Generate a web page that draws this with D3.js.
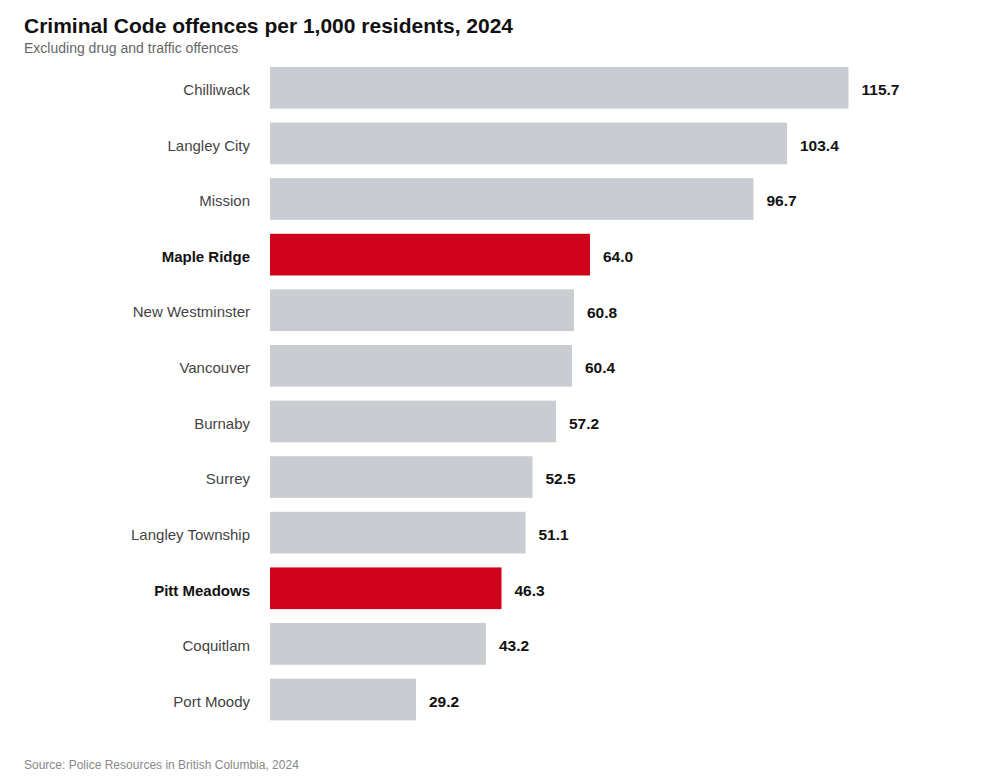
<!DOCTYPE html>
<html><head><meta charset="utf-8">
<script src="https://cdn.jsdelivr.net/npm/d3@7"></script>
<style>
html,body{margin:0;padding:0;background:#fff;}
svg{display:block;font-family:"Liberation Sans",Arial,sans-serif;}
</style></head>
<body>
<svg id="chart" width="1000" height="782"></svg>
<script>
const categories = ["Chilliwack","Langley City","Mission","Maple Ridge","New Westminster","Vancouver","Burnaby","Surrey","Langley Township","Pitt Meadows","Coquitlam","Port Moody"];
const values = [115.7,103.4,96.7,64.0,60.8,60.4,57.2,52.5,51.1,46.3,43.2,29.2];
const highlighted = ["Maple Ridge","Pitt Meadows"];
const title = "Criminal Code offences per 1,000 residents, 2024";
const subtitle = "Excluding drug and traffic offences";
const source = "Source: Police Resources in British Columbia, 2024";

const svg = d3.select("#chart");
const x = d3.scaleLinear().domain([0,120]).range([270,870]);
const y = d3.scaleBand().domain(categories).range([60,727.3]).paddingInner(0.25).paddingOuter(0.125);

svg.append("text").attr("x",24).attr("y",33).attr("font-size",21).attr("font-weight","bold").attr("fill","#111").text(title);
svg.append("text").attr("x",24).attr("y",53).attr("font-size",14).attr("fill","#666").text(subtitle);

const data = categories.map((c,i)=>({c, v: values[i], h: highlighted.includes(c)}));

svg.selectAll("rect.bar").data(data).join("rect").attr("class","bar")
  .attr("x",x(0)).attr("y",d=>y(d.c)).attr("width",d=>x(d.v)-x(0)).attr("height",y.bandwidth())
  .attr("fill",d=>d.h?"#d0021b":"#c9ccd1");

svg.selectAll("text.cat").data(data).join("text").attr("class","cat")
  .attr("x",250).attr("y",d=>y(d.c)+y.bandwidth()/2+2).attr("dy","0.35em")
  .attr("text-anchor","end").attr("font-size",15)
  .attr("font-weight",d=>d.h?"bold":"normal").attr("fill",d=>d.h?"#111":"#444").text(d=>d.c);

svg.selectAll("text.val").data(data).join("text").attr("class","val")
  .attr("x",d=>x(d.v)+13).attr("y",d=>y(d.c)+y.bandwidth()/2+2).attr("dy","0.35em")
  .attr("font-size",15.5).attr("font-weight","bold").attr("fill","#111").text(d=>d.v.toFixed(1));

svg.append("text").attr("x",24).attr("y",769).attr("font-size",12).attr("fill","#888").text(source);
</script>
</body></html>
